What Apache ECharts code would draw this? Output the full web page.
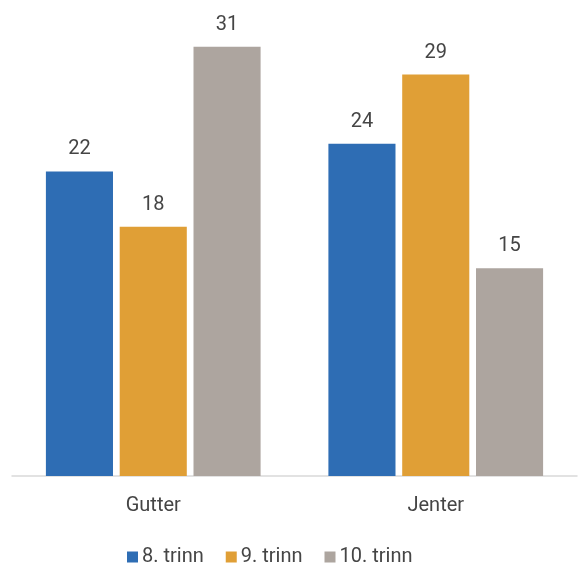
<!DOCTYPE html>
<html><head><meta charset="utf-8">
<script src="https://cdn.jsdelivr.net/npm/echarts@6/dist/echarts.min.js"></script>
<style>html,body{margin:0;padding:0;background:#fff}#c{width:580px;height:567px}</style>
</head><body><div id="c"></div>
<script>
const categories = ['Gutter', 'Jenter'];
const seriesNames = ['8. trinn', '9. trinn', '10. trinn'];
const trinn8 = [22, 24];
const trinn9 = [18, 29];
const trinn10 = [31, 15];
const colors = ['#2E6DB4', '#E09F36', '#ADA59F'];
const font = 'Roboto';
const textColor = '#454545';
const chart = echarts.init(document.getElementById('c'));
const mk = (name, data, color) => ({
  name, type: 'bar', data, barGap: '10%', barCategoryGap: '24%',
  itemStyle: { color },
  label: { show: true, position: 'top', distance: 12, color: textColor, fontSize: 20, fontFamily: font }
});
chart.setOption({
  animation: false,
  color: colors,
  grid: { left: 12, right: 3, top: 33, bottom: 91 },
  legend: {
    top: 547, left: 127, padding: 0, itemWidth: 11, itemHeight: 11, itemGap: 22, icon: 'rect',
    textStyle: { color: textColor, fontSize: 20, fontFamily: font, padding: [0,0,0,-1] }
  },
  xAxis: {
    type: 'category', data: categories,
    axisLine: { lineStyle: { color: '#D9D9D9', width: 1.5 } },
    axisTick: { show: false },
    axisLabel: { color: textColor, fontSize: 20, fontFamily: font, margin: 20 }
  },
  yAxis: { type: 'value', min: 0, max: 32, show: false, splitLine: { show: false } },
  series: [mk(seriesNames[0], trinn8, colors[0]), mk(seriesNames[1], trinn9, colors[1]), mk(seriesNames[2], trinn10, colors[2])]
});
</script></body></html>
